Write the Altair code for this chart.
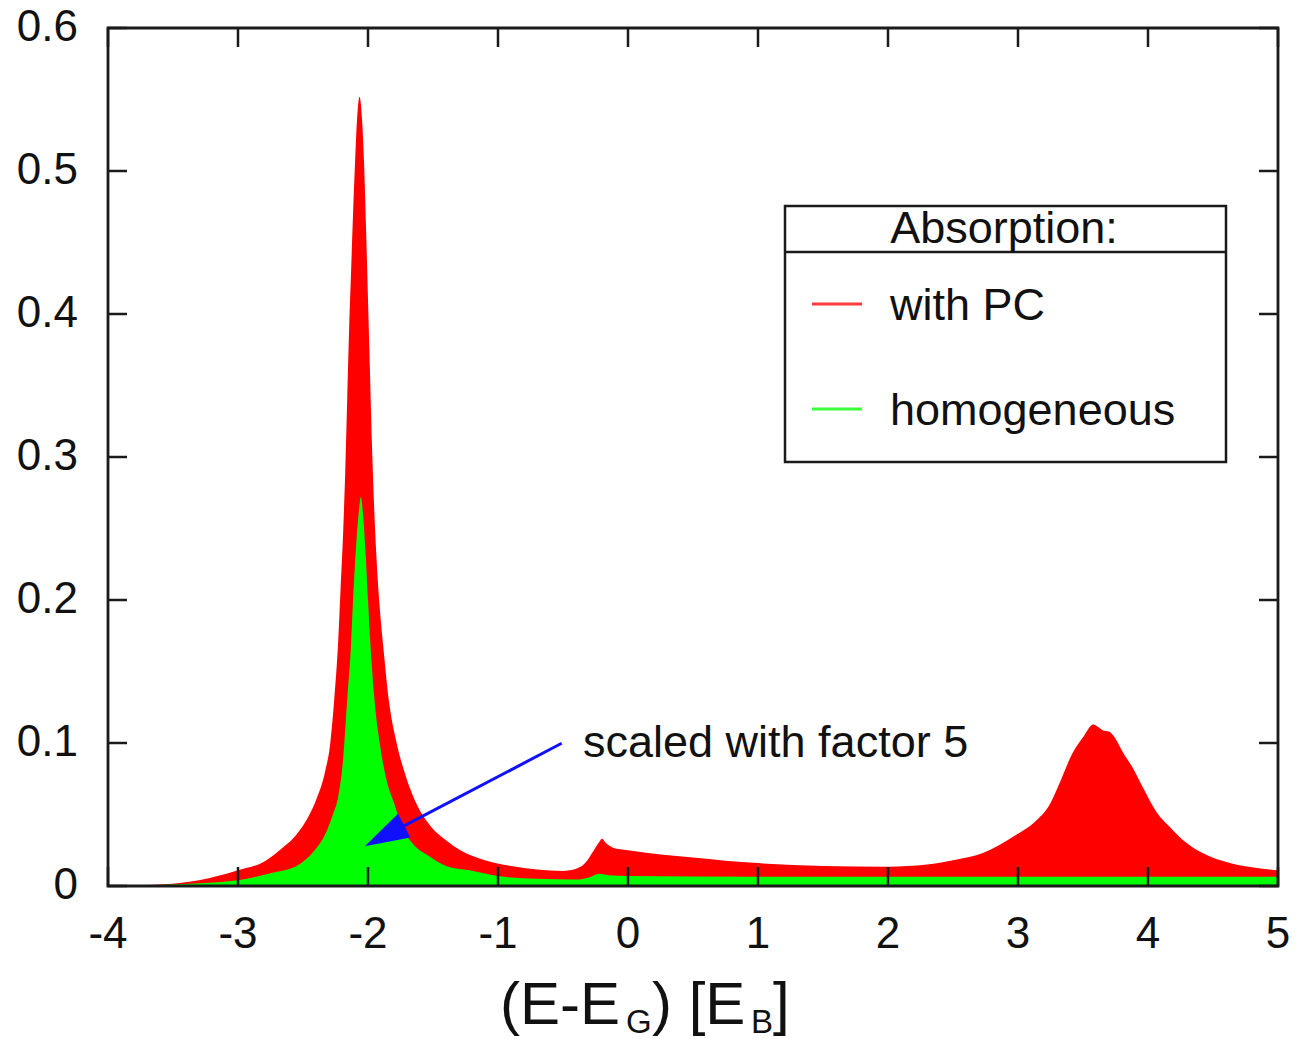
import altair as alt
import pandas as pd

# ---- data ----
red_x = [-4.0, -3.6, -3.3, -3.0, -2.8, -2.68, -2.55, -2.45, -2.40, -2.33, -2.29, -2.26, -2.23,
         -2.21, -2.19, -2.175, -2.16, -2.145, -2.13, -2.115, -2.10, -2.085, -2.065, -2.045, -2.03,
         -2.015, -2.0, -1.985, -1.97, -1.955, -1.935, -1.91, -1.88, -1.84, -1.78, -1.71, -1.63,
         -1.52, -1.40, -1.29, -1.1, -0.9, -0.7, -0.5, -0.4, -0.33, -0.27, -0.22, -0.2, -0.17,
         -0.12, 0.0, 0.5, 1.0, 1.5, 2.0, 2.3, 2.5, 2.73, 2.99, 3.12, 3.25, 3.32, 3.42, 3.5, 3.58,
         3.62, 3.65, 3.7, 3.75, 3.81, 3.88, 3.96, 4.07, 4.17, 4.27, 4.42, 4.63, 4.84, 5.0]
red_y = [0.0, 0.001, 0.004, 0.011, 0.017, 0.025, 0.036, 0.050, 0.060, 0.080, 0.10, 0.13, 0.17,
         0.21, 0.25, 0.29, 0.34, 0.39, 0.43, 0.47, 0.505, 0.535, 0.552, 0.535, 0.505, 0.46, 0.41,
         0.36, 0.31, 0.27, 0.23, 0.195, 0.165, 0.13, 0.10, 0.077, 0.058, 0.042, 0.032, 0.025,
         0.018, 0.014, 0.0115, 0.0105, 0.012, 0.016, 0.024, 0.031, 0.033, 0.030, 0.027, 0.025,
         0.020, 0.016, 0.014, 0.0135, 0.015, 0.018, 0.023, 0.036, 0.044, 0.058, 0.072, 0.093,
         0.104, 0.113, 0.111, 0.109, 0.108, 0.103, 0.093, 0.083, 0.069, 0.051, 0.041, 0.032,
         0.023, 0.016, 0.0126, 0.011]

green_x = [-4.0, -3.5, -3.0, -2.75, -2.55, -2.42, -2.33, -2.27, -2.23, -2.19, -2.16, -2.13, -2.115,
           -2.09, -2.07, -2.055, -2.04, -2.02, -2.0, -1.975, -1.95, -1.91, -1.86, -1.80, -1.74,
           -1.64, -1.55, -1.4, -1.22, -1.0, -0.7, -0.4, -0.3, -0.22, -0.15, 0.0, 1.0, 2.0, 3.0,
           4.0, 5.0]
green_y = [0.0, 0.001, 0.004, 0.009, 0.014, 0.024, 0.036, 0.050, 0.062, 0.09, 0.13, 0.17, 0.2,
           0.24, 0.262, 0.272, 0.262, 0.235, 0.2, 0.16, 0.13, 0.10, 0.075, 0.058, 0.042, 0.028,
           0.022, 0.014, 0.011, 0.007, 0.005, 0.0045, 0.006, 0.0085, 0.0075, 0.007, 0.0065,
           0.0065, 0.0065, 0.0065, 0.0065]

x_ticks = [-4, -3, -2, -1, 0, 1, 2, 3, 4, 5]
x_tick_labels = ["-4", "-3", "-2", "-1", "0", "1", "2", "3", "4", "5"]
y_ticks = [0.0, 0.1, 0.2, 0.3, 0.4, 0.5, 0.6]
y_tick_labels = ["0", "0.1", "0.2", "0.3", "0.4", "0.5", "0.6"]

series_names = ["with PC", "homogeneous"]
series_colors = ["#ff0000", "#00ff00"]
legend_title = "Absorption:"
annotation_text = "scaled with factor 5"
arrow_x = [-0.51, -1.723]
arrow_y = [0.0998, 0.042]
arrow_head_x = [-1.873]
arrow_head_y = [0.035]

W, H = 1170, 858
FONT = "Liberation Sans"

red_df = pd.DataFrame({"x": red_x, "y": red_y})
green_df = pd.DataFrame({"x": green_x, "y": green_y})
xt_df = pd.DataFrame({"x": x_ticks, "label": x_tick_labels})
yt_df = pd.DataFrame({"y": y_ticks, "label": y_tick_labels})
arrow_df = pd.DataFrame({"x": arrow_x, "y": arrow_y, "o": [0, 1]})
head_df = pd.DataFrame({"x": arrow_head_x, "y": arrow_head_y})
one = pd.DataFrame({"d": [0]})

xs = alt.Scale(domain=[-4, 5], nice=False, zero=False)
ys = alt.Scale(domain=[0, 0.6], nice=False, zero=False)
X = alt.X("x:Q", scale=xs, axis=None)
Y = alt.Y("y:Q", scale=ys, axis=None)

red_area = alt.Chart(red_df).mark_area(color=series_colors[0], opacity=1, interpolate="monotone").encode(x=X, y=Y)
green_area = alt.Chart(green_df).mark_area(color=series_colors[1], opacity=1, interpolate="monotone").encode(x=X, y=Y)

arrow_line = alt.Chart(arrow_df).mark_line(color="#1010ff", strokeWidth=3).encode(x=X, y=Y, order="o:Q")
arrow_head = alt.Chart(head_df).mark_point(
    filled=True, shape="M0,-1L0.6,1L-0.6,1Z", size=1980, angle=242.4,
    color="#1010ff", opacity=1, strokeWidth=0
).encode(x=X, y=Y)

tick_len = 19
ticks_bottom = alt.Chart(xt_df).mark_rule(color="#1a1a1a", strokeWidth=2.5).encode(
    x=X, y=alt.value(H), y2=alt.value(H - tick_len))
ticks_top = alt.Chart(xt_df).mark_rule(color="#1a1a1a", strokeWidth=2.5).encode(
    x=X, y=alt.value(0), y2=alt.value(tick_len))
ticks_left = alt.Chart(yt_df).mark_rule(color="#1a1a1a", strokeWidth=2.5).encode(
    y=Y, x=alt.value(0), x2=alt.value(tick_len))
ticks_right = alt.Chart(yt_df).mark_rule(color="#1a1a1a", strokeWidth=2.5).encode(
    y=Y, x=alt.value(W), x2=alt.value(W - tick_len))

frame = alt.Chart(one).mark_rect(fillOpacity=0, stroke="#1a1a1a", strokeWidth=2.8).encode(
    x=alt.value(0), x2=alt.value(W), y=alt.value(0), y2=alt.value(H))

x_labels = alt.Chart(xt_df).mark_text(font=FONT, fontSize=44, color="#111", align="center",
                                      baseline="middle").encode(x=X, y=alt.value(H + 49), text="label:N")
y_labels = alt.Chart(yt_df).mark_text(font=FONT, fontSize=44, color="#111", align="right",
                                      baseline="middle").encode(y=Y, x=alt.value(-30), text="label:N")


def txt(s, x, y, size, align="left"):
    return alt.Chart(one).mark_text(text=s, font=FONT, fontSize=size, color="#111", align=align,
                                    baseline="alphabetic").encode(x=alt.value(x), y=alt.value(y))


# axis title with subscripts
title_parts = [
    txt("(E-E", 392, 996, 60),
    txt("G", 518, 1005, 33),
    txt(") [E", 544, 996, 60),
    txt("B", 643, 1005, 33),
    txt("]", 665, 996, 60),
]

# legend box
lx0, lx1, ly0, ly1, lsep = 677, 1118, 178, 434, 224
legend_box = alt.Chart(one).mark_rect(fill="white", stroke="#1a1a1a", strokeWidth=2.5).encode(
    x=alt.value(lx0), x2=alt.value(lx1), y=alt.value(ly0), y2=alt.value(ly1))
legend_sep = alt.Chart(one).mark_rule(color="#1a1a1a", strokeWidth=2.5).encode(
    x=alt.value(lx0), x2=alt.value(lx1), y=alt.value(lsep))
legend_title_t = txt(legend_title, 896, 215, 45, align="center")
leg_red_line = alt.Chart(one).mark_rule(color="#ff3b3b", strokeWidth=3).encode(
    x=alt.value(704), x2=alt.value(754), y=alt.value(276))
leg_green_line = alt.Chart(one).mark_rule(color="#3bff3b", strokeWidth=3).encode(
    x=alt.value(704), x2=alt.value(754), y=alt.value(381))
leg_red_t = txt(series_names[0], 782, 292, 45)
leg_green_t = txt(series_names[1], 782, 397, 45)

annot = txt(annotation_text, 475, 729, 45)

chart = alt.layer(
    red_area, green_area, arrow_line, arrow_head,
    ticks_bottom, ticks_top, ticks_left, ticks_right, frame,
    x_labels, y_labels, *title_parts,
    legend_box, legend_sep, legend_title_t, leg_red_line, leg_green_line, leg_red_t, leg_green_t,
    annot,
).properties(
    width=W, height=H,
    autosize=alt.AutoSizeParams(type="none"),
    padding={"left": 108, "top": 28, "right": 23, "bottom": 153},
    background="white",
).configure_view(stroke="transparent")

chart.save("out.html", embed_options={"renderer": "svg", "actions": False})
